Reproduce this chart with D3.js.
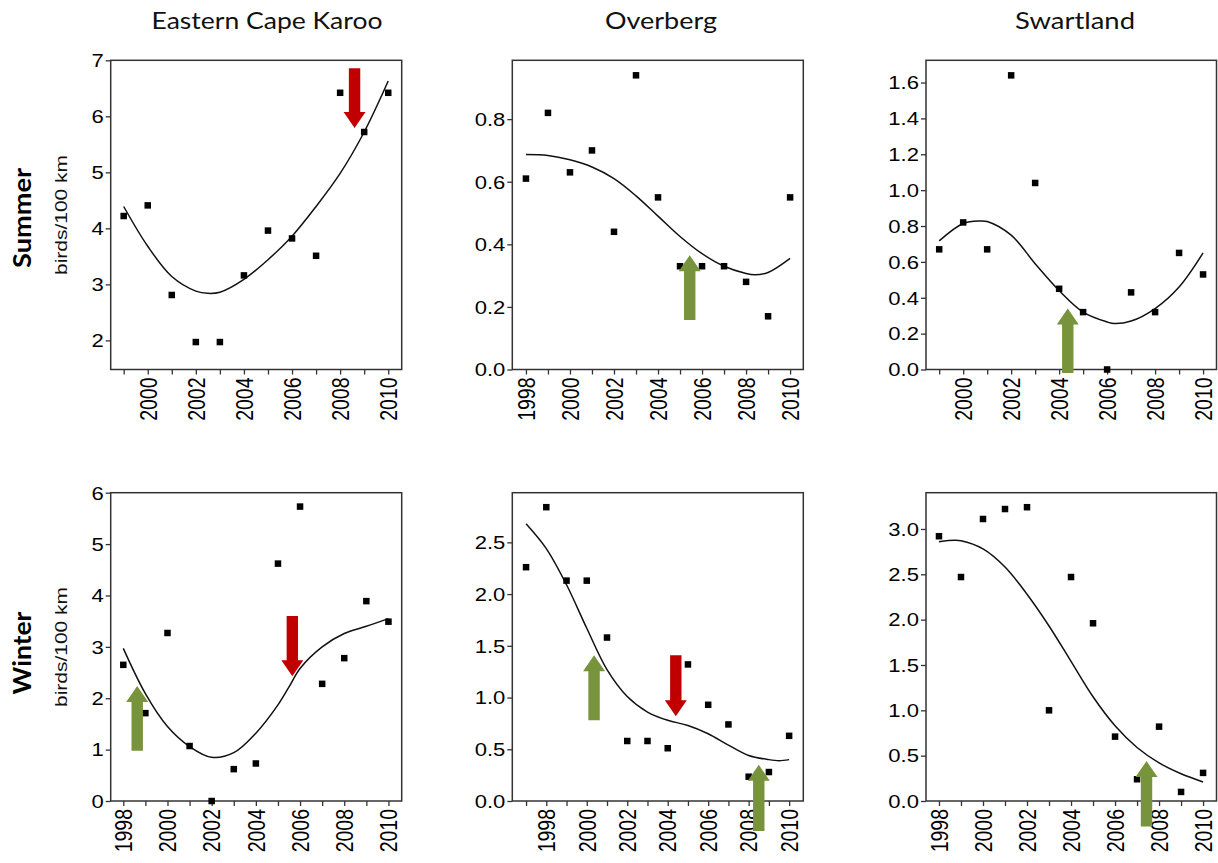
<!DOCTYPE html>
<html><head><meta charset="utf-8">
<script src="https://cdn.jsdelivr.net/npm/d3@7"></script>
<style>
html,body{margin:0;padding:0;background:#fff;}
svg{display:block;}
</style></head>
<body>
<svg id="chart" width="1218" height="863"></svg>
<script>
// ---------- data ----------
const regions = ["Eastern Cape Karoo", "Overberg", "Swartland"];
const seasons = ["Summer", "Winter"];
const yAxisLabel = "birds/100 km";

// Eastern Cape Karoo – summer
const eckSummerYears = [1999,2000,2001,2002,2003,2004,2005,2006,2007,2008,2009,2010];
const eckSummerCounts = [4.22,4.41,2.81,1.97,1.97,3.16,3.96,3.82,3.51,6.42,5.72,6.42];
const eckSummerFitYears = [1999,2000,2001,2002,2002.5,2003,2004,2005,2006,2007,2008,2009,2010];
const eckSummerFit = [4.39,3.68,3.14,2.88,2.84,2.86,3.09,3.44,3.86,4.39,4.98,5.72,6.63];
const eckSummerYTicks = [2,3,4,5,6,7];

// Overberg – summer
const ovbSummerYears = [1998,1999,2000,2001,2002,2003,2004,2005,2006,2007,2008,2009,2010];
const ovbSummerCounts = [0.61,0.82,0.63,0.70,0.44,0.94,0.55,0.33,0.33,0.33,0.28,0.17,0.55];
const ovbSummerFitYears = [1998,1999,2000,2001,2002,2003,2004,2005,2006,2007,2008,2008.4,2009,2010];
const ovbSummerFit = [0.687,0.684,0.67,0.647,0.61,0.555,0.49,0.425,0.37,0.33,0.307,0.303,0.31,0.355];
const ovbSummerYTicks = [0,0.2,0.4,0.6,0.8];

// Swartland – summer
const swtSummerYears = [1999,2000,2001,2002,2003,2004,2005,2006,2007,2008,2009,2010];
const swtSummerCounts = [0.67,0.82,0.67,1.64,1.04,0.45,0.32,0.0,0.43,0.32,0.65,0.53];
const swtSummerFitYears = [1999,2000,2000.7,2001,2002,2003,2004,2005,2006,2006.3,2007,2008,2009,2010];
const swtSummerFit = [0.717,0.814,0.828,0.825,0.749,0.59,0.44,0.32,0.265,0.256,0.27,0.34,0.46,0.65];
const swtSummerYTicks = [0,0.2,0.4,0.6,0.8,1.0,1.2,1.4,1.6];

// Eastern Cape Karoo – winter
const eckWinterYears = [1998,1999,2000,2001,2002,2003,2004,2005,2006,2007,2008,2009,2010];
const eckWinterCounts = [2.65,1.71,3.27,1.07,0.0,0.62,0.73,4.62,5.73,2.28,2.78,3.89,3.49];
const eckWinterFitYears = [1998,1999,2000,2001,2002,2003,2004,2005,2005.5,2006,2007,2008,2009,2010];
const eckWinterFit = [2.97,2.09,1.45,1.06,0.85,0.94,1.32,1.87,2.22,2.58,3.0,3.26,3.40,3.55];
const eckWinterYTicks = [0,1,2,3,4,5,6];

// Overberg – winter
const ovbWinterYears = [1997,1998,1999,2000,2001,2002,2003,2004,2005,2006,2007,2008,2009,2010];
const ovbWinterCounts = [2.26,2.84,2.13,2.13,1.58,0.58,0.58,0.51,1.32,0.93,0.74,0.235,0.28,0.63];
const ovbWinterFitYears = [1997,1998,1999,2000,2001,2002,2003,2004,2005,2006,2007,2008,2009,2009.5,2010];
const ovbWinterFit = [2.68,2.44,2.09,1.67,1.27,1.01,0.86,0.78,0.73,0.65,0.54,0.44,0.40,0.39,0.40];
const ovbWinterYTicks = [0,0.5,1.0,1.5,2.0,2.5];

// Swartland – winter
const swtWinterYears = [1998,1999,2000,2001,2002,2003,2004,2005,2006,2007,2008,2009,2010];
const swtWinterCounts = [2.92,2.47,3.11,3.22,3.24,1.0,2.47,1.96,0.71,0.24,0.82,0.10,0.31];
const swtWinterFitYears = [1998,1998.7,1999,2000,2001,2002,2003,2004,2005,2006,2007,2008,2009,2010];
const swtWinterFit = [2.86,2.875,2.87,2.78,2.58,2.28,1.93,1.54,1.15,0.83,0.59,0.42,0.30,0.21];
const swtWinterYTicks = [0,0.5,1.0,1.5,2.0,2.5,3.0];

// Arrows: [year, tail value, tip value, kind]
const eckSummerArrows = [[2008.6, 6.86, 5.79, "decline"]];
const ovbSummerArrows = [[2005.44, 0.158, 0.365, "increase"]];
const swtSummerArrows = [[2004.36, -0.02, 0.34, "increase"]];
const eckWinterArrows = [[1998.63, 0.98, 2.24, "increase"], [2005.65, 3.6, 2.43, "decline"]];
const ovbWinterArrows = [[2000.36, 0.78, 1.41, "increase"], [2004.4, 1.41, 0.82, "decline"], [2008.5, -0.29, 0.35, "increase"]];
const swtWinterArrows = [[2007.43, -0.28, 0.44, "increase"]];

const xTickYears = [1996,1997,1998,1999,2000,2001,2002,2003,2004,2005,2006,2007,2008,2009,2010];

// ---------- layout ----------
const colX = [[110.7, 401.7], [512.3, 803.3], [926, 1216.5]];
const rowY = [[60.3, 369.5], [492.7, 801]];
const arrowColors = {increase: "#77933c", decline: "#c00000"};

const panels = [
  {r:0,c:0, years:eckSummerYears, counts:eckSummerCounts, fy:eckSummerFitYears, fv:eckSummerFit, yt:eckSummerYTicks, xd:[1998.46,2010.56], yd:[1.48,7], fmt:d3.format("d"), arrows:eckSummerArrows},
  {r:0,c:1, years:ovbSummerYears, counts:ovbSummerCounts, fy:ovbSummerFitYears, fv:ovbSummerFit, yt:ovbSummerYTicks, xd:[1997.38,2010.6], yd:[0,0.988], fmt:d3.format(".1f"), arrows:ovbSummerArrows},
  {r:0,c:2, years:swtSummerYears, counts:swtSummerCounts, fy:swtSummerFitYears, fv:swtSummerFit, yt:swtSummerYTicks, xd:[1998.45,2010.56], yd:[0,1.724], fmt:d3.format(".1f"), arrows:swtSummerArrows},
  {r:1,c:0, years:eckWinterYears, counts:eckWinterCounts, fy:eckWinterFitYears, fv:eckWinterFit, yt:eckWinterYTicks, xd:[1997.43,2010.6], yd:[0,6], fmt:d3.format("d"), arrows:eckWinterArrows},
  {r:1,c:1, years:ovbWinterYears, counts:ovbWinterCounts, fy:ovbWinterFitYears, fv:ovbWinterFit, yt:ovbWinterYTicks, xd:[1996.32,2010.7], yd:[0,2.98], fmt:d3.format(".1f"), arrows:ovbWinterArrows},
  {r:1,c:2, years:swtWinterYears, counts:swtWinterCounts, fy:swtWinterFitYears, fv:swtWinterFit, yt:swtWinterYTicks, xd:[1997.41,2010.61], yd:[0,3.4], fmt:d3.format(".1f"), arrows:swtWinterArrows}
];

const svg = d3.select("#chart");
const tickFont = "'Liberation Sans', Arial, sans-serif";

panels.forEach(p => {
  const [x0, x1] = colX[p.c];
  const [y0, y1] = rowY[p.r];
  const x = d3.scaleLinear().domain(p.xd).range([x0, x1]);
  const y = d3.scaleLinear().domain(p.yd).range([y1, y0]);
  const g = svg.append("g");

  // frame
  g.append("rect").attr("x", x0).attr("y", y0).attr("width", x1 - x0).attr("height", y1 - y0)
    .attr("fill", "none").attr("stroke", "#333").attr("stroke-width", 1.5);

  // y axis
  const yAxis = d3.axisLeft(y).tickValues(p.yt).tickFormat(p.fmt).tickSize(5).tickPadding(4);
  const ya = g.append("g").attr("transform", `translate(${x0},0)`).call(yAxis);
  ya.select(".domain").remove();
  ya.selectAll("line").attr("stroke", "#333").attr("stroke-width", 1.3);
  ya.selectAll("text").attr("font-family", tickFont).attr("font-size", 17.5).attr("fill", "#000")
    .attr("x", null).attr("dy", "0.36em")
    .attr("transform", "translate(-7,0) scale(1.26,1)");

  // x axis
  const xt = xTickYears.filter(v => v >= p.xd[0] && v <= p.xd[1]);
  const xAxis = d3.axisBottom(x).tickValues(xt).tickFormat(d => d % 2 === 0 ? d : "").tickSize(5);
  const xa = g.append("g").attr("transform", `translate(0,${y1})`).call(xAxis);
  xa.select(".domain").remove();
  xa.selectAll("line").attr("stroke", "#333").attr("stroke-width", 1.3);
  xa.selectAll("text").attr("font-family", tickFont).attr("font-size", 19.5).attr("fill", "#000")
    .attr("text-anchor", "end").attr("y", null).attr("dy", null)
    .attr("transform", "translate(0,8) rotate(-90) scale(1,1.25)")
    .attr("dominant-baseline", "central");

  // fitted curve
  const line = d3.line().x((d,i) => x(p.fy[i])).y(d => y(d)).curve(d3.curveCatmullRom.alpha(0.5));
  g.append("path").attr("d", line(p.fv)).attr("fill", "none").attr("stroke", "#111").attr("stroke-width", 1.5);

  // points
  const s = 6.5;
  g.selectAll("rect.pt").data(p.counts).enter().append("rect").attr("class", "pt")
    .attr("x", (d,i) => x(p.years[i]) - s/2).attr("y", d => y(d) - s/2)
    .attr("width", s).attr("height", s).attr("fill", "#000");

  // arrows
  p.arrows.forEach(([yr, tail, tip, kind]) => {
    const cx = x(yr), ty = y(tail), py = y(tip);
    const dir = py < ty ? -1 : 1; // -1 up
    const hl = 16, sw = 5.7, hw = 11;
    const hb = py - dir * hl;
    const path = d3.path();
    path.moveTo(cx - sw, ty);
    path.lineTo(cx - sw, hb);
    path.lineTo(cx - hw, hb);
    path.lineTo(cx, py);
    path.lineTo(cx + hw, hb);
    path.lineTo(cx + sw, hb);
    path.lineTo(cx + sw, ty);
    path.closePath();
    g.append("path").attr("d", path.toString()).attr("fill", arrowColors[kind]);
  });
});

// column titles
const titleX = [267, 661, 1075];
const titleW = [231, 112, 120];
regions.forEach((t, i) => {
  svg.append("text").attr("x", titleX[i]).attr("y", 29).attr("text-anchor", "middle")
    .attr("font-family", "Lato, 'Open Sans', sans-serif").attr("font-size", 24).attr("fill", "#111")
    .attr("textLength", titleW[i]).attr("lengthAdjust", "spacingAndGlyphs")
    .text(t);
});

// row labels
const rowLabelY = [218, 653];
const rowLabelLen = [100, 83];
seasons.forEach((t, i) => {
  svg.append("text").attr("transform", `translate(31,${rowLabelY[i]}) rotate(-90)`)
    .attr("text-anchor", "middle").attr("font-family", "Lato, sans-serif").attr("font-weight", "bold")
    .attr("font-size", 25).attr("fill", "#000")
    .attr("textLength", rowLabelLen[i]).attr("lengthAdjust", "spacingAndGlyphs")
    .text(t);
});

// y-axis labels (first column)
const yLabY = [215, 647];
yLabY.forEach(cy => {
  svg.append("text").attr("transform", `translate(67,${cy}) rotate(-90)`)
    .attr("text-anchor", "middle").attr("font-family", tickFont).attr("font-size", 16).attr("fill", "#111")
    .attr("textLength", 120).attr("lengthAdjust", "spacingAndGlyphs")
    .text(yAxisLabel);
});
</script>
</body></html>
